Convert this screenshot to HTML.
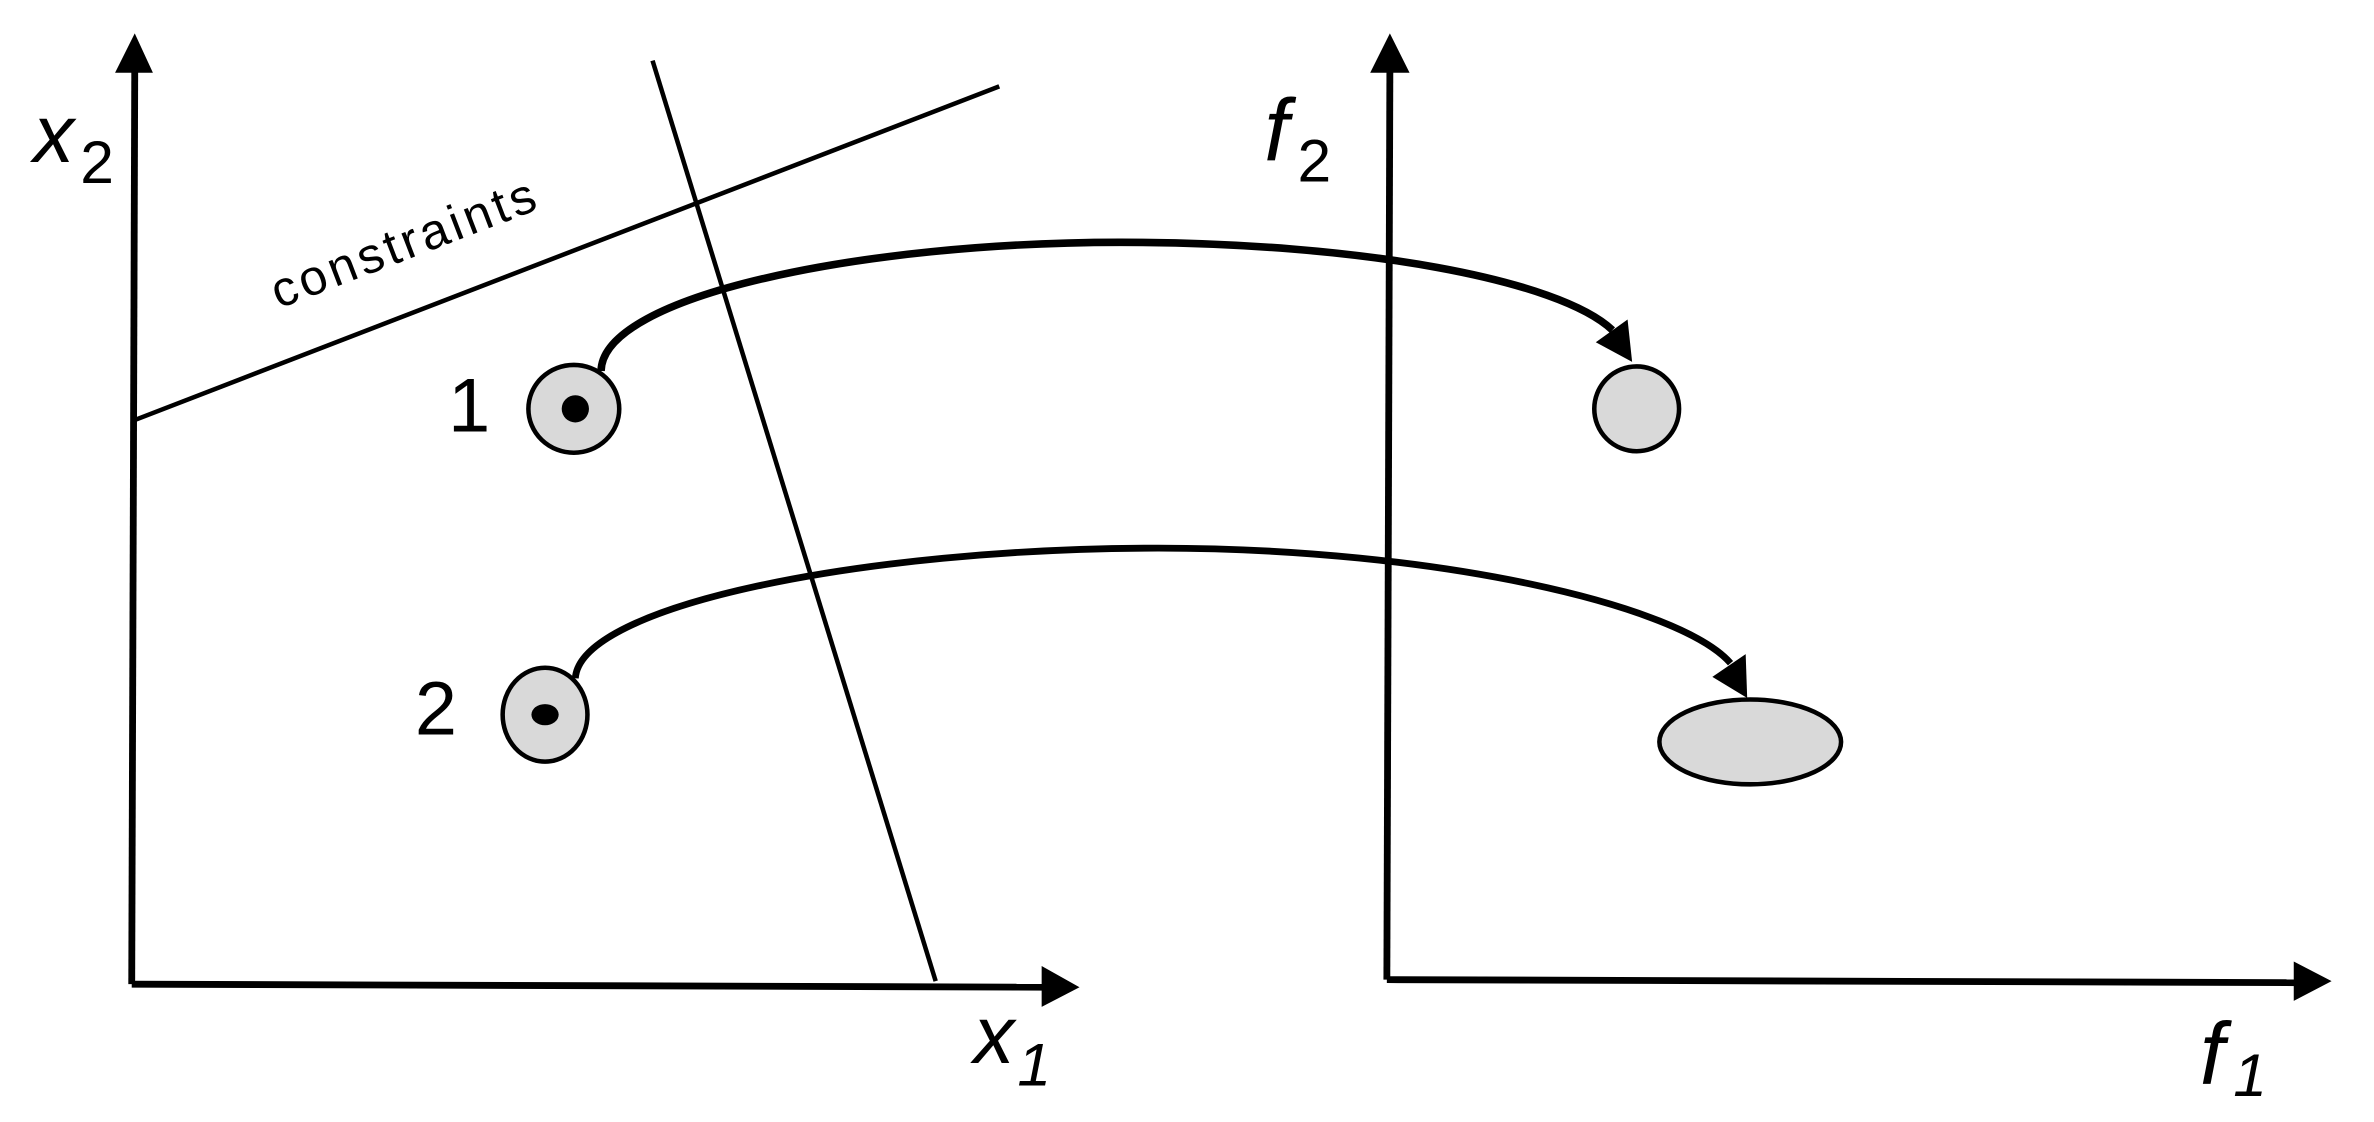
<!DOCTYPE html>
<html><head><style>html,body{margin:0;padding:0;background:#fff}svg{display:block}</style></head>
<body>
<svg width="2374" height="1122" viewBox="0 0 1568 741" xmlns="http://www.w3.org/2000/svg">
<rect width="1568" height="741" fill="#fff"/>
<g stroke="#000" fill="none">
<line x1="87" y1="650" x2="89" y2="45" stroke-width="4.5"/>
<line x1="87" y1="650" x2="692" y2="652" stroke-width="4.5"/>
<line x1="916" y1="647" x2="918" y2="45" stroke-width="4.5"/>
<line x1="916" y1="647" x2="1518" y2="649" stroke-width="4.5"/>
<line x1="90" y1="277" x2="660" y2="57" stroke-width="3"/>
<line x1="431" y1="40" x2="618" y2="648" stroke-width="3"/>
<path d="M397,245 C398,195 570,160 740,160 C900,160 1030,185 1065,218" stroke-width="5"/>
<path d="M380,448 C383,400 570,362 765,362 C950,362 1110,400 1143,438" stroke-width="4.5"/>
</g>
<g fill="#000">
<polygon points="76,48 89,22 101,48"/>
<polygon points="688,638 713,652 688,665"/>
<polygon points="905,48 918,22 931,48"/>
<polygon points="1515,635 1540,648 1515,661"/>
<polygon points="1054,226 1075,211 1078,239"/>
<polygon points="1131,447 1153,432 1154,461"/>
</g>
<g fill="#d9d9d9" stroke="#000" stroke-width="3">
<ellipse cx="379" cy="270" rx="30" ry="29"/>
<ellipse cx="360" cy="472" rx="28" ry="31"/>
<ellipse cx="1081" cy="270" rx="28" ry="28"/>
<ellipse cx="1156" cy="490" rx="60" ry="28"/>
</g>
<circle cx="380" cy="270" r="9"/>
<ellipse cx="360" cy="472" rx="9" ry="7"/>
<g font-family="Liberation Sans, sans-serif" fill="#000">
<text x="22" y="107" font-size="54" font-style="italic">x</text>
<text x="53" y="121" font-size="40">2</text>
<text x="643" y="702" font-size="54" font-style="italic">x</text>
<text x="672" y="717" font-size="40" font-style="italic">1</text>
<text x="835" y="106" font-size="58" font-style="italic">f</text>
<text x="857" y="120" font-size="40">2</text>
<text x="1453" y="716" font-size="58" font-style="italic">f</text>
<text x="1475" y="724" font-size="40" font-style="italic">1</text>
<text x="296" y="285" font-size="50">1</text>
<text x="274" y="485" font-size="50">2</text>
<text x="0" y="0" font-size="33" letter-spacing="2.5" transform="translate(184,204) rotate(-21)">constraints</text>
</g>
</svg>
</body></html>
